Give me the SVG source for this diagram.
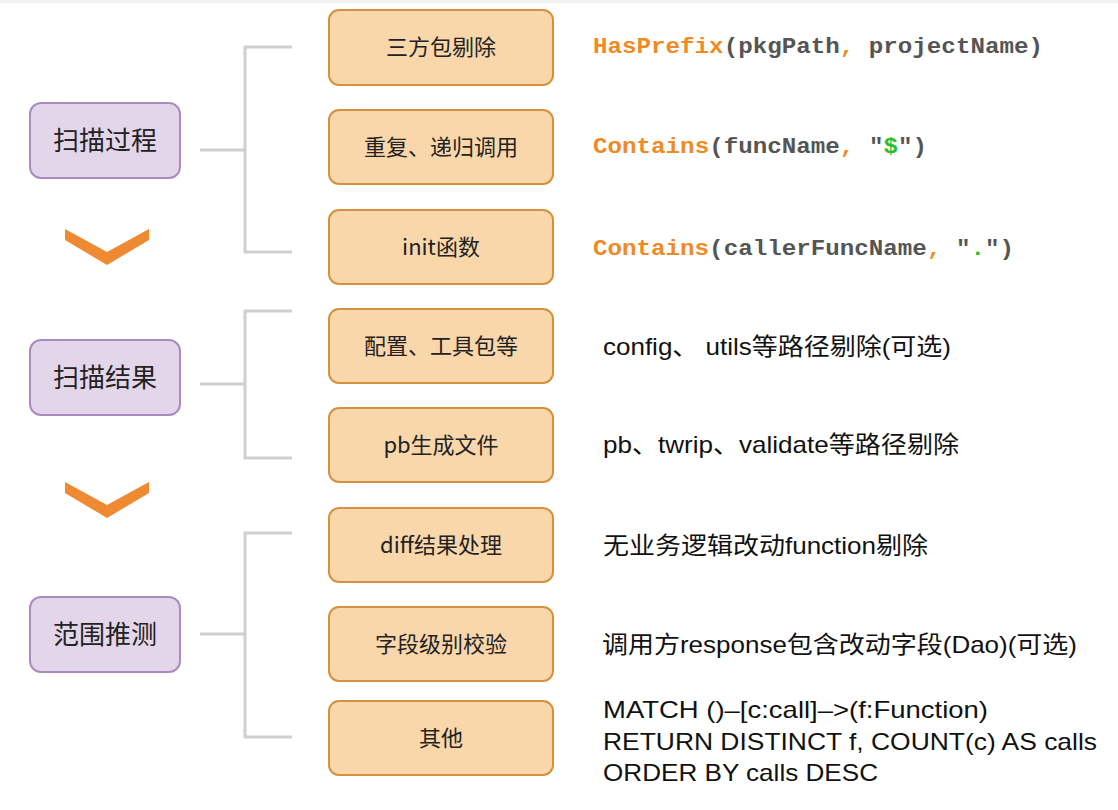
<svg xmlns="http://www.w3.org/2000/svg" width="1118" height="810" viewBox="0 0 1118 810">
<style>
.lnode{fill:#e4d6ea;stroke:#a98cbf;stroke-width:2}
.onode{fill:#f9d7ab;stroke:#d4923f;stroke-width:2}
.ltxt{font-family:"Noto Sans CJK SC","Noto Sans",sans-serif;font-size:26px;fill:#222;text-anchor:middle}
.otxt{font-family:"Noto Sans CJK SC","Noto Sans",sans-serif;font-size:22px;fill:#222;text-anchor:middle}
.desc{font-family:"Liberation Sans","Noto Sans CJK SC",sans-serif;font-size:24px;fill:#111}
.code{font-family:"Liberation Mono",monospace;font-size:22px;font-weight:bold;fill:#555}
.kw{fill:#f08a24}
.str{fill:#2bbf2b}
.br{fill:none;stroke:#cfcfcf;stroke-width:3}
.chev{fill:#ef8a32}
</style>
<rect x="0" y="0" width="1118" height="810" fill="#ffffff"/>
<rect x="0" y="0" width="1118" height="3" fill="#f2f2f2"/>
<g id="connectors">
<path class="br" d="M200 150H245M292 47H245V252H292"/>
<path class="br" d="M200 384H245M292 311H245V458H292"/>
<path class="br" d="M200 634H245M292 533H245V737H292"/>
<polygon class="chev" points="65,229 107,252 149,229 149,240 107,265 65,240"/>
<polygon class="chev" points="65,482 107,505 149,482 149,493 107,518 65,493"/>
</g>
<g id="n1"><rect class="lnode" x="30" y="103" width="150" height="75" rx="11"/><text class="ltxt" x="105" y="150">扫描过程</text></g>
<g id="n2"><rect class="lnode" x="30" y="340" width="150" height="75" rx="11"/><text class="ltxt" x="105" y="387">扫描结果</text></g>
<g id="n3"><rect class="lnode" x="30" y="597" width="150" height="75" rx="11"/><text class="ltxt" x="105" y="644">范围推测</text></g>
<g id="o1"><rect class="onode" x="329" y="10" width="224" height="75" rx="10"/><text class="otxt" x="441" y="55">三方包剔除</text></g>
<g id="o2"><rect class="onode" x="329" y="110" width="224" height="74" rx="10"/><text class="otxt" x="441" y="155">重复、递归调用</text></g>
<g id="o3"><rect class="onode" x="329" y="210" width="224" height="74" rx="10"/><text class="otxt" x="441" y="255">init函数</text></g>
<g id="o4"><rect class="onode" x="329" y="309" width="224" height="74" rx="10"/><text class="otxt" x="441" y="354">配置、工具包等</text></g>
<g id="o5"><rect class="onode" x="329" y="408" width="224" height="74" rx="10"/><text class="otxt" x="441" y="453">pb生成文件</text></g>
<g id="o6"><rect class="onode" x="329" y="508" width="224" height="74" rx="10"/><text class="otxt" x="441" y="553">diff结果处理</text></g>
<g id="o7"><rect class="onode" x="329" y="607" width="224" height="74" rx="10"/><text class="otxt" x="441" y="652">字段级别校验</text></g>
<g id="o8"><rect class="onode" x="329" y="701" width="224" height="74" rx="10"/><text class="otxt" x="441" y="746">其他</text></g>
<g id="labels">
<text class="code" x="593" y="53" textLength="450" lengthAdjust="spacingAndGlyphs"><tspan class="kw">HasPrefix</tspan>(pkgPath<tspan class="kw">,</tspan> projectName)</text>
<text class="code" x="593" y="153" textLength="334" lengthAdjust="spacingAndGlyphs"><tspan class="kw">Contains</tspan>(funcName<tspan class="kw">,</tspan> "<tspan class="str">$</tspan>")</text>
<text class="code" x="593" y="255" textLength="421" lengthAdjust="spacingAndGlyphs"><tspan class="kw">Contains</tspan>(callerFuncName<tspan class="kw">,</tspan> "<tspan class="str">.</tspan>")</text>
<text class="desc" x="603" y="355" textLength="348" lengthAdjust="spacingAndGlyphs">config、 utils等路径剔除(可选)</text>
<text class="desc" x="603" y="453" textLength="356" lengthAdjust="spacingAndGlyphs">pb、twrip、validate等路径剔除</text>
<text class="desc" x="603" y="554" textLength="325" lengthAdjust="spacingAndGlyphs">无业务逻辑改动function剔除</text>
<text class="desc" x="602" y="653" textLength="475" lengthAdjust="spacingAndGlyphs">调用方response包含改动字段(Dao)(可选)</text>
<text class="desc" x="603" y="718" textLength="385" lengthAdjust="spacingAndGlyphs">MATCH ()–[c:call]–&gt;(f:Function)</text>
<text class="desc" x="603" y="750" textLength="494" lengthAdjust="spacingAndGlyphs">RETURN DISTINCT f, COUNT(c) AS calls</text>
<text class="desc" x="603" y="781" textLength="275" lengthAdjust="spacingAndGlyphs">ORDER BY calls DESC</text>
</g>
</svg>
